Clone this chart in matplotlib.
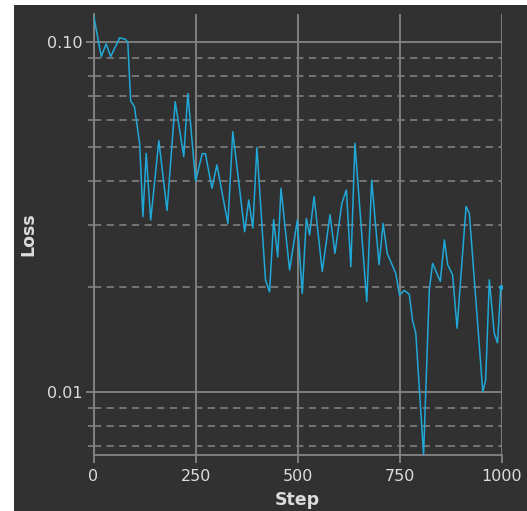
import matplotlib.pyplot as plt
from matplotlib.ticker import FixedLocator, FuncFormatter, NullFormatter
from matplotlib.patches import Rectangle

# values
step = [0, 19, 31, 42, 64, 78, 84, 91, 100, 113, 121, 129, 140, 160, 180, 200,
        221, 231, 250, 266, 274, 290, 302, 329, 341, 370, 380, 390, 400, 421,
        431, 441, 451, 459, 480, 499, 511, 521, 529, 540, 560, 579, 591, 608,
        619, 630, 640, 669, 681, 699, 709, 719, 740, 749, 761, 773, 781, 789,
        808, 822, 830, 849, 859, 867, 879, 890, 912, 920, 953, 960, 969, 981,
        989, 997]
loss = [0.120, 0.091, 0.099, 0.091, 0.103, 0.102, 0.100, 0.068, 0.0655, 0.0514,
        0.0317, 0.0481, 0.031, 0.0523, 0.033, 0.0676, 0.0471, 0.0714, 0.040,
        0.048, 0.048, 0.0382, 0.0446, 0.0303, 0.0555, 0.0287, 0.0354, 0.0294,
        0.050, 0.0209, 0.0193, 0.0311, 0.0243, 0.0382, 0.0223, 0.031, 0.0191,
        0.0313, 0.0281, 0.0362, 0.0221, 0.0321, 0.0249, 0.0346, 0.0378, 0.0228,
        0.0514, 0.0181, 0.0403, 0.0231, 0.0303, 0.0249, 0.0218, 0.0189, 0.0195,
        0.019, 0.016, 0.0147, 0.0066, 0.0195, 0.0233, 0.0207, 0.0272, 0.0231,
        0.0216, 0.0152, 0.0339, 0.0324, 0.010, 0.0108, 0.0209, 0.0147, 0.0138,
        0.020]
x_ticks = [0, 250, 500, 750, 1000]
y_major = [0.01, 0.1]
y_minor = [0.007, 0.008, 0.009, 0.02, 0.03, 0.04, 0.05, 0.06, 0.07, 0.08, 0.09]

bg = '#313131'
grid_c = '#858585'
text_c = '#dcdcdc'

W, H = 527, 511
fig = plt.figure(figsize=(W / 100, H / 100), dpi=100, facecolor='white')
fig.patches.append(Rectangle((14 / W, 0), 1, 1 - 5 / H, transform=fig.transFigure,
                             facecolor=bg, edgecolor='none', zorder=-10))
ax = fig.add_axes([93.5 / W, 1 - 455 / H, (502 - 93.5) / W, (455 - 14) / H])
ax.set_facecolor(bg)

ax.plot(step, loss, color='#20a8d8', lw=1.1, zorder=3)
ax.plot(step[-1], loss[-1], 'o', color='#20a8d8', ms=2.5, zorder=3)

ax.set_yscale('log')
ax.set_xlim(0, 1000)
ax.set_ylim(0.00659, 0.1205)
ax.set_xticks(x_ticks)
ax.yaxis.set_major_locator(FixedLocator(y_major))
ax.yaxis.set_minor_locator(FixedLocator(y_minor))
ax.yaxis.set_major_formatter(FuncFormatter(lambda v, p: '%.2f' % v))
ax.yaxis.set_minor_formatter(NullFormatter())

ax.grid(True, which='major', color=grid_c, lw=1.3)
ax.grid(True, which='minor', axis='y', color='#7a7a7a', lw=1.3, linestyle=(0, (4, 3)))

for s in ['top', 'right']:
    ax.spines[s].set_visible(False)
for s in ['left', 'bottom']:
    ax.spines[s].set_color(grid_c)
    ax.spines[s].set_linewidth(1.3)

ax.tick_params(which='major', colors=grid_c, length=6, width=1.3, labelcolor=text_c,
               labelsize=11.5)
ax.tick_params(axis='x', pad=4)
ax.tick_params(axis='y', pad=2)
ax.tick_params(which='minor', colors='#7a7a7a', length=4, width=1.3)

ax.set_xlabel('Step', color=text_c, fontsize=12.5, fontweight='bold', labelpad=5)
ax.set_ylabel('Loss', color=text_c, fontsize=12.5, fontweight='bold', labelpad=7)

fig.savefig('out.png', dpi=100, facecolor='white')
